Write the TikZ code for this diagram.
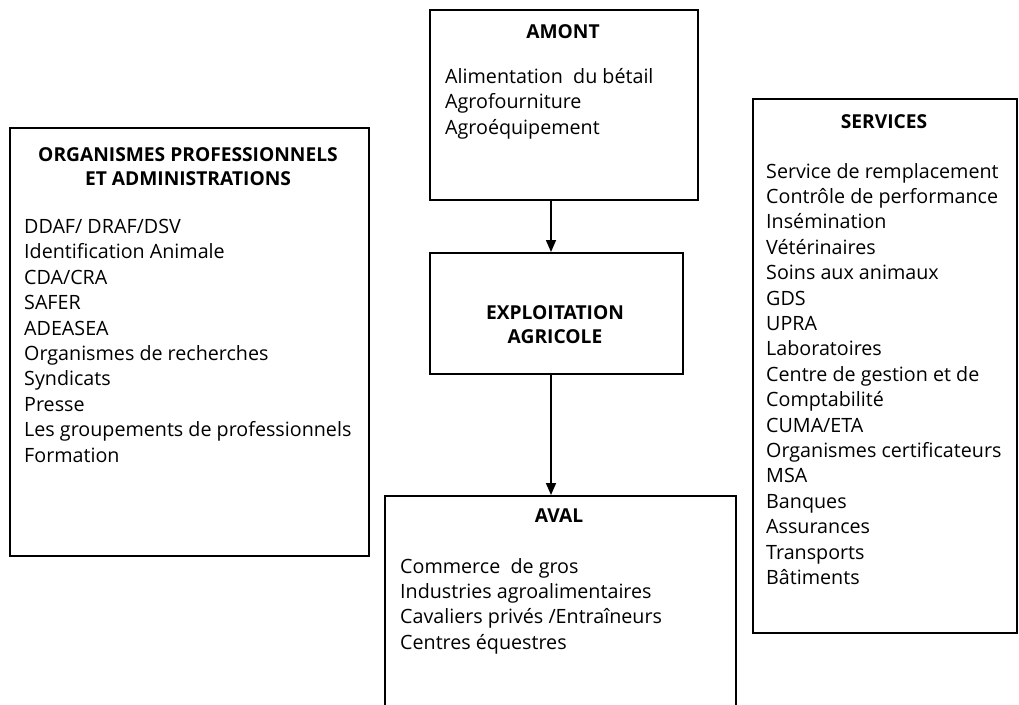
\documentclass[tikz,border=0pt]{standalone}
\usepackage{fontspec}
\setmainfont{Open Sans}
\usetikzlibrary{arrows.meta}
\begin{document}
\begin{tikzpicture}[x=1pt,y=-1pt,
  box/.style={draw, line width=1.6pt, inner sep=0, anchor=north west},
  txt/.style={font=\fontsize{19.7}{25.4}\selectfont, align=left, anchor=north west, inner sep=0},
  ttl/.style={font=\bfseries\fontsize{19.2}{24.5}\selectfont, align=center, anchor=north, inner sep=0},
  arr/.style={line width=1.6pt, -{Triangle[length=12pt,width=10pt]}}]
\useasboundingbox (0,0) rectangle (1019,704);
% boxes
\node[box, minimum width=359pt, minimum height=428pt] (org) at (9,127) {};
\node[box, minimum width=268pt, minimum height=190pt] (amont) at (429,9) {};
\node[box, minimum width=253pt, minimum height=121pt] (expl) at (429,252) {};
\node[box, minimum width=351pt, minimum height=230pt] (aval) at (384,495) {};
\node[box, minimum width=264pt, minimum height=534pt] (serv) at (752,98) {};
% titles
\node[ttl] (orgt) at (188,147) {ORGANISMES PROFESSIONNELS\\ET ADMINISTRATIONS};
\node[ttl] (amontt) at (563,24) {AMONT};
\node[ttl] (explt) at (555,305) {EXPLOITATION\\AGRICOLE};
\node[ttl] (avalt) at (559,509) {AVAL};
\node[ttl] (servt) at (884,114) {SERVICES};
% lists
\node[txt] (orgl) at (24,219) {DDAF/ DRAF/DSV\\Identification Animale\\CDA/CRA\\SAFER\\ADEASEA\\Organismes de recherches\\Syndicats\\Presse\\Les groupements de professionnels\\Formation};
\node[txt] (amontl) at (445,68) {Alimentation\ \ du bétail\\Agrofourniture\\Agroéquipement};
\node[txt] (avall) at (400,558) {Commerce\ \ de gros\\Industries agroalimentaires\\Cavaliers privés /Entraîneurs\\Centres équestres};
\node[txt] (servl) at (766,163) {Service de remplacement\\Contrôle de performance\\Insémination\\Vétérinaires\\Soins aux animaux\\GDS\\UPRA\\Laboratoires\\Centre de gestion et de\\Comptabilité\\CUMA/ETA\\Organismes certificateurs\\MSA\\Banques\\Assurances\\Transports\\Bâtiments};
% arrows
\coordinate (ax) at (551,0);
\draw[arr] (amont.south -| ax) -- (expl.north -| ax);
\draw[arr] (expl.south -| ax) -- (aval.north -| ax);
\end{tikzpicture}
\end{document}
